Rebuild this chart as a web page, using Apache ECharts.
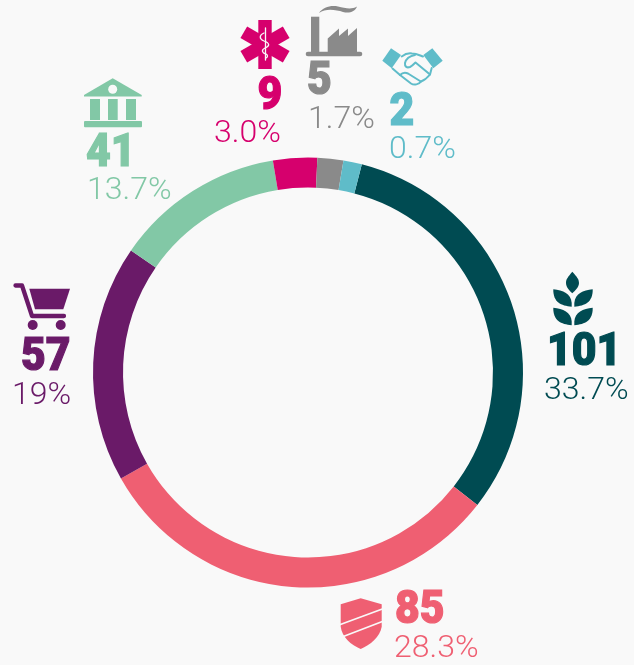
<!DOCTYPE html>
<html>
<head>
<meta charset="utf-8">
<style>
html, body { margin: 0; padding: 0; background: #f9f9f9; }
#chart { width: 634px; height: 665px; }
</style>
<script src="https://cdn.jsdelivr.net/npm/echarts@6/dist/echarts.min.js"></script>
</head>
<body>
<div id="chart"></div>
<script>
// counts and shares printed next to each slice
var counts = [101, 85, 57, 41, 9, 5, 2]
var shares = ['33.7%', '28.3%', '19%', '13.7%', '3.0%', '1.7%', '0.7%']
// arc of each slice as measured on the ring (the drawn ring is not proportional to the counts)
var arcs = [113.5, 112.4, 64.1, 46, 11.9, 7, 5]
var colors = ['#004b52', '#ef5f72', '#6a1a68', '#82c8a6', '#d6006d', '#8a8a8a', '#5fbcc9']

// left edge and vertical middle of count and share text
var countPos = [[547, 353], [395, 611], [21, 358], [86, 154], [257.5, 97], [307, 82], [389.5, 113]]
var sharePos = [[544, 391], [394, 649], [12, 396], [87, 191], [214, 134], [308, 120], [389, 150]]

var bg = '#f9f9f9'

// icons, pixel coordinates of the page
var icons = [
    // wheat
    { fill: [
        'M572.3 271.7C577 277 579 279 579 283C579 287 575 291 572.3 293.3C569.6 291 566 287 566 283C566 279 568 277 572.3 271.7Z',
        'M553.3 289.3C563 290 571 294 571.7 303L571.7 306.7C561 306 553 302 553.3 289.3Z',
        'M592.7 289.3C583 290 575 294 574.3 303L574.3 306.7C585 306 593 302 592.7 289.3Z',
        'M553.3 307.8C563 308.5 571 312.5 571.7 321.5L571.7 325.2C561 324.5 553 320.5 553.3 307.8Z',
        'M592.7 307.8C583 308.5 575 312.5 574.3 321.5L574.3 325.2C585 324.5 593 320.5 592.7 307.8Z'
    ] },
    // shield
    { fill: [
        'M340.7 604.3L360.7 598.3L381.7 604.3L381.7 626.7C380 637 370 645 360.7 649C351 645 342 637 340.7 626.7Z'
    ], cut: ['M339 625L383 608.7', 'M342 637L383 621.2'], cutWidth: 1.7 },
    // cart
    { line: ['M15.5 285.5L22 285.5L32 316L64 316'], lineWidth: 4.3, fill: [
        'M29.3 288.7L70 288.7L63.3 309.3L35 309.3Z',
        'M27.7 325A5 5 0 1 0 37.7 325A5 5 0 1 0 27.7 325Z',
        'M55.7 325A5 5 0 1 0 65.7 325A5 5 0 1 0 55.7 325Z'
    ] },
    // bank
    { fill: [
        'M112.7 78.3L141.7 95L141.7 96.5L84 96.5L84 95Z',
        'M90 99H100V120H90Z', 'M108 99H117.7V120H108Z', 'M126 99H136V120H126Z',
        'M85 121H141A1 1 0 0 1 142 122V126.3A1 1 0 0 1 141 127.3H85A1 1 0 0 1 84 126.3V122A1 1 0 0 1 85 121Z'
    ], cut: ['M108.2 89.3A4.5 4.5 0 1 0 117.2 89.3A4.5 4.5 0 1 0 108.2 89.3Z'], cutFill: true },
    // star of life
    { fill: [
        'M258.3 20H271.7V69H258.3Z',
        'M282.85 62.55L289.55 50.95L247.15 26.45L240.45 38.05Z',
        'M289.55 38.05L282.85 26.45L240.45 50.95L247.15 62.55Z'
    ], cut: [
        'M265.5 28L265.5 60',
        'M264 33C259 35 259 39 264 41C270 43 270 46 265 48C261 50 262 53 266 54C268 55 268 57 266 58'
    ], cutWidth: 1.3 },
    // factory
    { fill: [
        'M311 16.7H319.3V52H311Z',
        'M327.7 52L327.7 38.5L339 28.5L339 36L348 28.5L348 36L357 28L357 52Z',
        'M308 51.7H360A2.3 2.3 0 0 1 360 56.3H308A2.3 2.3 0 0 1 308 51.7Z',
        'M319 13C323 7 331 5 338 6.5C345 8 351 10 357 6.5C355 12 349 13.5 343 12C336 10 326 8 319 13Z'
    ] },
    // handshake
    { fill: [
        'M391 48.3L401 55L391.7 68.3L382.3 60.7Z',
        'M432.3 48.3L442.7 60.7L433.3 68.3L423.3 55Z'
    ], line: [
        'M401.7 56.5C405 54 409 53 412 53.5C416 53.5 419 55 423 56.5',
        'M415 55C410 56 406 59 405 63C404.5 67 407 68 410 67C412 66 414 64 415.5 62.5L430 74.5',
        'M431.7 68L430 74.5C428 77 425 80 421 81.5',
        'M392.5 68.5L400 75L411 83.5C414 85.5 419 84.5 421 81.5',
        'M400 75C402 73 405 72 408 73.5L420 81'
    ], lineWidth: 2 }
]

function pathEl(d, style) {
    // the two leading moves stretch the path box over the page, so coordinates stay absolute
    return {
        type: 'path',
        shape: { pathData: 'M0 0M634 665' + d, x: 0, y: 0, width: 634, height: 665 },
        style: style
    }
}

function renderIcon(params) {
    var icon = icons[params.dataIndex]
    var color = colors[params.dataIndex]
    var children = []
    ;(icon.fill || []).forEach(function (d) {
        children.push(pathEl(d, { fill: color }))
    })
    ;(icon.line || []).forEach(function (d) {
        children.push(pathEl(d, { fill: 'none', stroke: color, lineWidth: icon.lineWidth, lineCap: 'round', lineJoin: 'round' }))
    })
    ;(icon.cut || []).forEach(function (d) {
        children.push(pathEl(d, icon.cutFill ? { fill: bg } : { fill: 'none', stroke: bg, lineWidth: icon.cutWidth, lineCap: 'round' }))
    })
    return { type: 'group', children: children }
}

var graphics = []
counts.forEach(function (n, i) {
    graphics.push({
        type: 'text',
        silent: true,
        x: countPos[i][0],
        y: countPos[i][1],
        scaleX: 0.93,
        style: {
            text: String(n),
            fill: colors[i],
            stroke: colors[i],
            lineWidth: 1.2,
            font: '900 46px Roboto',
            textVerticalAlign: 'middle'
        }
    })
    graphics.push({
        type: 'text',
        silent: true,
        x: sharePos[i][0],
        y: sharePos[i][1],
        style: {
            text: shares[i],
            fill: colors[i],
            font: '300 32px Roboto',
            textVerticalAlign: 'middle'
        }
    })
})

var myChart = echarts.init(document.getElementById('chart'))
var option = {
    backgroundColor: bg,
    animation: false,
    graphic: graphics,
    series: [
        {
            type: 'pie',
            silent: true,
            radius: [185, 215],
            center: [308, 372.5],
            startAngle: 75.5,
            clockwise: true,
            label: { show: false },
            labelLine: { show: false },
            data: arcs.map(function (v, i) {
                return { value: v, name: String(counts[i]), itemStyle: { color: colors[i] } }
            })
        },
        {
            type: 'custom',
            silent: true,
            coordinateSystem: 'none',
            renderItem: renderIcon,
            data: counts
        }
    ]
}
myChart.setOption(option)
window.addEventListener('resize', function () {
    myChart.resize()
})
</script>
</body>
</html>
